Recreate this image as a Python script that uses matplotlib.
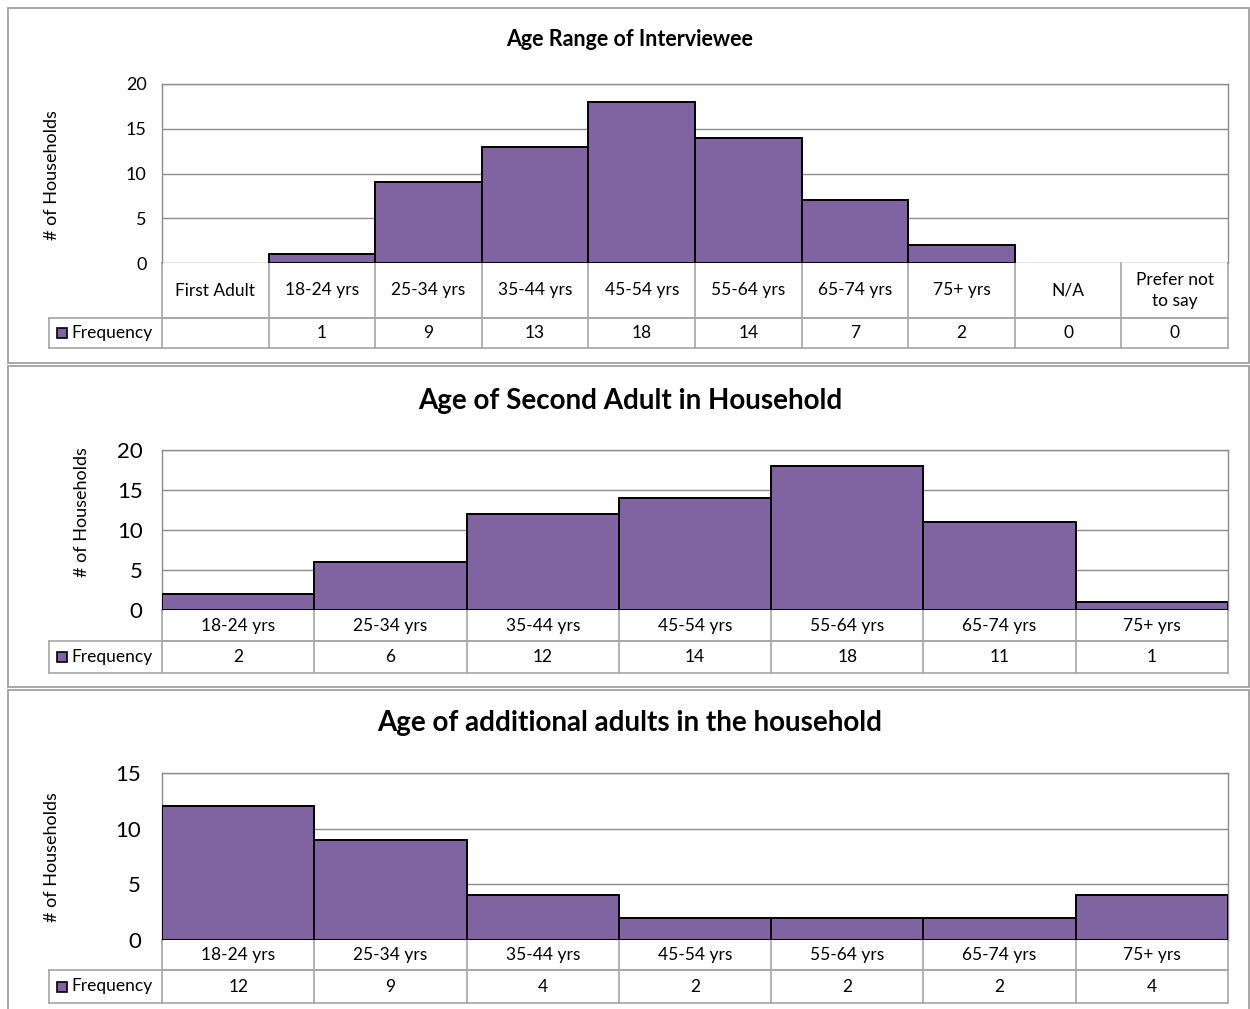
import numpy as np
import matplotlib
matplotlib.use("Agg")
import matplotlib.pyplot as plt
from matplotlib.transforms import blended_transform_factory
from matplotlib.patches import Rectangle

plt.rcParams['font.family'] = ['Lato', 'DejaVu Sans']

W, H = 1250, 1009

# ---------------- data ----------------
titles = ["Age Range of Interviewee",
          "Age of Second Adult in Household",
          "Age of additional adults in the household"]

cats1 = ["First Adult", "18-24 yrs", "25-34 yrs", "35-44 yrs", "45-54 yrs",
         "55-64 yrs", "65-74 yrs", "75+ yrs", "N/A", "Prefer not\nto say"]
freq1 = [None, 1, 9, 13, 18, 14, 7, 2, 0, 0]

cats2 = ["18-24 yrs", "25-34 yrs", "35-44 yrs", "45-54 yrs",
         "55-64 yrs", "65-74 yrs", "75+ yrs"]
freq2 = [2, 6, 12, 14, 18, 11, 1]

cats3 = ["18-24 yrs", "25-34 yrs", "35-44 yrs", "45-54 yrs",
         "55-64 yrs", "65-74 yrs", "75+ yrs"]
freq3 = [12, 9, 4, 2, 2, 2, 4]

yticks1 = [0, 5, 10, 15, 20]
yticks2 = [0, 5, 10, 15, 20]
yticks3 = [0, 5, 10, 15]

series_name = "Frequency"
ylabel = "# of Households"

BAR = "#8064A2"
GRID = "#8C8C8C"
TBL = "#A6A6A6"

fig = plt.figure(figsize=(W / 100, H / 100), dpi=100)


def fx(x):
    return x / W


def fy(y):
    return 1 - y / H


# panel borders
for (x0, y0, x1, y1) in [(8, 8, 1249, 363), (8, 366, 1249, 687), (8, 690, 1249, 1012)]:
    fig.add_artist(Rectangle((fx(x0), fy(y1)), fx(x1) - fx(x0), fy(y0) - fy(y1),
                             transform=fig.transFigure, fill=False,
                             edgecolor="#A0A0A0", lw=1.3))

specs = [
    dict(cats=cats1, vals=freq1, ticks=yticks1, top=84, bot=263, catb=318, datab=348,
         title_y=40, title_fs=15.5, tick_fs=13, ylab_x=52, ylab_y=175, ylab_fs=13, pad=11),
    dict(cats=cats2, vals=freq2, ticks=yticks2, top=450, bot=610, catb=641, datab=673,
         title_y=401, title_fs=20, tick_fs=16, ylab_x=82, ylab_y=512, ylab_fs=13, pad=14),
    dict(cats=cats3, vals=freq3, ticks=yticks3, top=773, bot=940, catb=970, datab=1003,
         title_y=723, title_fs=20, tick_fs=16, ylab_x=52, ylab_y=857, ylab_fs=13, pad=15),
]

LEFT, RIGHT, LEG_L = 162, 1228, 49
CAT_FS = 12.5

for sp, title in zip(specs, titles):
    cats, vals = sp["cats"], sp["vals"]
    n = len(cats)
    ax = fig.add_axes([fx(LEFT), fy(sp["bot"]), fx(RIGHT) - fx(LEFT), fy(sp["top"]) - fy(sp["bot"])])
    ax.set_xlim(0, n)
    ax.set_ylim(sp["ticks"][0], sp["ticks"][-1])
    ax.set_yticks(sp["ticks"])
    ax.set_xticks([])
    ax.tick_params(axis="y", length=0, pad=sp["pad"], labelsize=sp["tick_fs"])
    for s in ax.spines.values():
        s.set_color(GRID)
        s.set_linewidth(1)
    ax.spines["bottom"].set_visible(False)
    ax.set_axisbelow(True)
    ax.yaxis.grid(True, color=GRID, lw=1)

    xs = np.arange(n)
    hv = np.array([np.nan if v is None else v for v in vals], dtype=float)
    mask = np.nan_to_num(hv) > 0
    ax.bar(xs[mask], hv[mask], width=1.0, align="edge", color=BAR,
           edgecolor="black", linewidth=1.4, zorder=3)

    fig.text(fx(630), fy(sp["title_y"]), title, fontsize=sp["title_fs"],
             fontweight="bold", ha="center", va="center")
    fig.text(fx(sp["ylab_x"]), fy(sp["ylab_y"]), ylabel, rotation=90,
             ha="center", va="center", fontsize=sp["ylab_fs"])

    # table (y in axes fraction)
    h = sp["bot"] - sp["top"]
    y0 = 0.0
    y1 = -(sp["catb"] - sp["bot"]) / h
    y2 = -(sp["datab"] - sp["bot"]) / h
    xl = -(LEFT - LEG_L) / (RIGHT - LEFT)
    bt = blended_transform_factory(ax.transData, ax.transAxes)
    kw = dict(color=TBL, lw=1.2, clip_on=False, zorder=1)
    ax.plot([0, n], [y1, y1], transform=bt, **kw)
    ax.plot([xl, 1], [y1, y1], transform=ax.transAxes, **kw)
    ax.plot([xl, 1], [y2, y2], transform=ax.transAxes, **kw)
    ax.plot([xl, xl], [y1, y2], transform=ax.transAxes, **kw)
    for i in range(n + 1):
        ax.plot([i, i], [y0, y2], transform=bt, **kw)
    for i, (c, v) in enumerate(zip(cats, vals)):
        ax.text(i + 0.5, (y0 + y1) / 2, c, transform=bt, ha="center", va="center",
                fontsize=CAT_FS, linespacing=1.45)
        if v is not None:
            ax.text(i + 0.5, (y1 + y2) / 2, str(v), transform=bt, ha="center",
                    va="center", fontsize=CAT_FS)
    # legend cell
    sq = 10
    fig.add_artist(Rectangle((fx(LEG_L + 8), fy((sp["catb"] + sp["datab"]) / 2) - sq / 2 / H),
                             sq / W, sq / H, transform=fig.transFigure,
                             facecolor=BAR, edgecolor="black", lw=1.2))
    fig.text(fx(LEG_L + 22), fy((sp["catb"] + sp["datab"]) / 2), series_name,
             ha="left", va="center", fontsize=CAT_FS)

fig.savefig("out.png", dpi=100)
